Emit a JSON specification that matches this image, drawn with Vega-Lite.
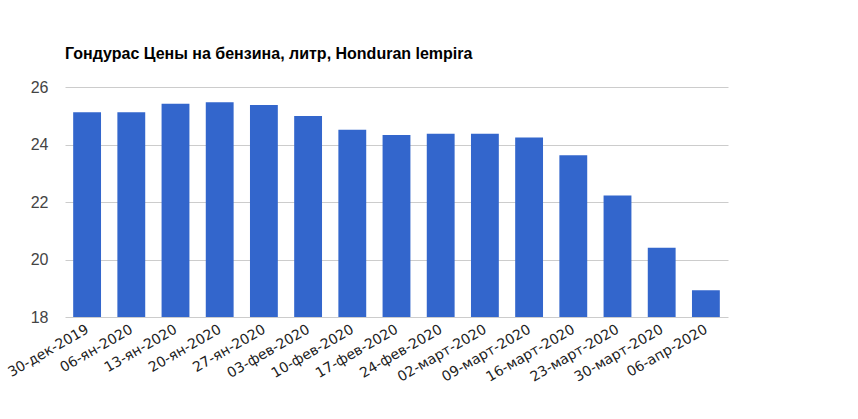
{
  "$schema": "https://vega.github.io/schema/vega-lite/v6.json",
  "autosize": "none",
  "padding": {"left": 65, "top": 87, "right": 130, "bottom": 102},
  "width": 663,
  "height": 230,
  "background": "white",
  "view": {"stroke": null},
  "title": {
    "text": "Гондурас Цены на бензина, литр, Honduran lempira",
    "anchor": "start",
    "frame": "group",
    "font": "Liberation Sans",
    "fontSize": 16,
    "fontWeight": "bold",
    "color": "#000000",
    "baseline": "alphabetic",
    "offset": 4
  },
  "data": {
    "values": [
      {"date": "30-дек-2019", "price": 25.12},
      {"date": "06-ян-2020", "price": 25.12},
      {"date": "13-ян-2020", "price": 25.42},
      {"date": "20-ян-2020", "price": 25.47},
      {"date": "27-ян-2020", "price": 25.37},
      {"date": "03-фев-2020", "price": 24.99},
      {"date": "10-фев-2020", "price": 24.51},
      {"date": "17-фев-2020", "price": 24.33},
      {"date": "24-фев-2020", "price": 24.37},
      {"date": "02-март-2020", "price": 24.37},
      {"date": "09-март-2020", "price": 24.24},
      {"date": "16-март-2020", "price": 23.63},
      {"date": "23-март-2020", "price": 22.23},
      {"date": "30-март-2020", "price": 20.41},
      {"date": "06-апр-2020", "price": 18.93}
    ]
  },
  "mark": {"type": "bar", "color": "#3366cc", "clip": true},
  "encoding": {
    "x": {
      "field": "date",
      "type": "nominal",
      "sort": null,
      "title": null,
      "scale": {"paddingInner": 0.37, "paddingOuter": 0.185},
      "axis": {
        "labelAngle": -30,
        "labelAlign": "right",
        "labelBaseline": "top",
        "labelFont": "DejaVu Sans",
        "labelFontSize": 14,
        "labelColor": "#222222",
        "labelPadding": 5,
        "labelOffset": -3,
        "labelOverlap": false,
        "ticks": false,
        "domain": false,
        "grid": false
      }
    },
    "y": {
      "field": "price",
      "type": "quantitative",
      "title": null,
      "scale": {"domain": [18, 26], "nice": false, "zero": false},
      "axis": {
        "values": [18, 20, 22, 24, 26],
        "labelFont": "Liberation Sans",
        "labelFontSize": 16,
        "labelColor": "#444444",
        "labelPadding": 17,
        "ticks": false,
        "domain": false,
        "grid": true,
        "gridColor": "#cccccc",
        "gridWidth": 1
      }
    }
  }
}
